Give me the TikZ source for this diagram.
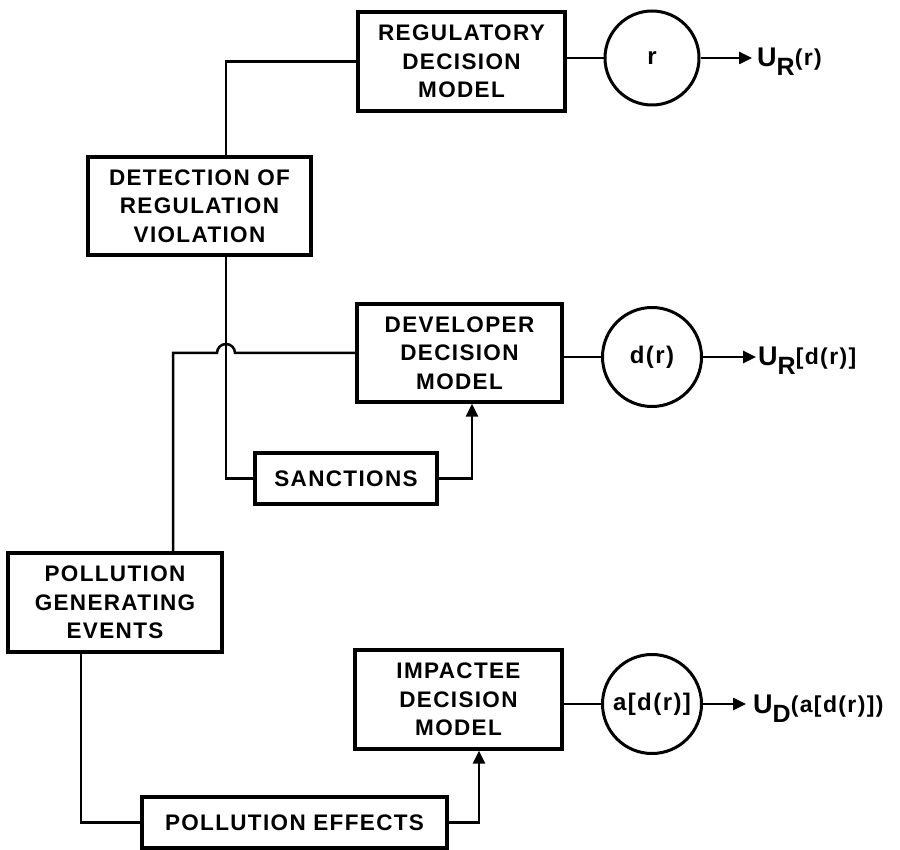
\documentclass[tikz,border=0pt]{standalone}
\usepackage{fontspec}
\setmainfont{Liberation Sans}[LetterSpace=6]
\usetikzlibrary{arrows.meta}
\newcommand\dgmfont{\fontsize{22.5}{28.5}\selectfont\bfseries}
\newcommand\circfont{\fontsize{24}{28}\selectfont\bfseries}
% utility label: U with a lowered subscript and a smaller argument
\newcommand\ulabel[2]{{\fontsize{27}{27}\selectfont\bfseries U}\raisebox{-9pt}{\fontsize{25}{25}\selectfont\bfseries #1}\raisebox{1pt}{\fontsize{23}{23}\selectfont\bfseries #2}}
\begin{document}
\begin{tikzpicture}[x=1pt,y=-1pt,
  box/.style={draw, line width=3.4pt, rectangle, inner sep=0pt, align=center, font=\dgmfont},
  state/.style={draw, line width=3pt, circle, inner sep=0pt, minimum size=99pt, font=\circfont},
  conn/.style={line width=2.5pt},
  arr/.style={line width=2.5pt, -{Triangle[length=13pt,width=12pt]}},
  ulab/.style={anchor=base west, inner sep=0pt}
]
\useasboundingbox (0,0) rectangle (900,850);

% boxes
\node[box, minimum width=207pt, minimum height=99pt] (reg)  at (461.5,61.5) {REGULATORY\\DECISION\\MODEL};
\node[box, minimum width=223pt, minimum height=98pt] (det)  at (199.5,206)  {DETECTION OF\\REGULATION\\VIOLATION};
\node[box, minimum width=205pt, minimum height=98pt] (dev)  at (459.5,353)  {DEVELOPER\\DECISION\\MODEL};
\node[box, minimum width=182pt, minimum height=51pt] (sanc) at (346,478.5)  {SANCTIONS};
\node[box, minimum width=214pt, minimum height=99pt] (pge)  at (115,602.5)  {POLLUTION\\GENERATING\\EVENTS};
\node[box, minimum width=207pt, minimum height=99pt] (imp)  at (458.5,699.5) {IMPACTEE\\DECISION\\MODEL};
\node[box, minimum width=305pt, minimum height=51pt] (pe)   at (294.5,822.5) {POLLUTION EFFECTS};

% outcome circles
\node[state, minimum size=94pt] (rc) at (652,58)  {r};
\node[state] (dc) at (652,357) {d(r)};
\node[state] (ac) at (652,704) {a[d(r)]};

% utility labels
\node[ulab] (ur)  at (757,67)  {\ulabel{R}{(r)}};
\node[ulab] (ud)  at (758,366) {\ulabel{R}{[d(r)]}};
\node[ulab] (ua)  at (753,713) {\ulabel{D}{(a[d(r)])}};
\coordinate (urtip) at (752,58);
\coordinate (udtip) at (756,357);
\coordinate (uatip) at (746,704);

% routing columns
\coordinate (xd) at (226,0);
\coordinate (xs) at (472,0);
\coordinate (xp) at (173,0);
\coordinate (xg) at (81,0);
\coordinate (xe) at (479,0);

% regulator branch
\draw[conn] (det.north -| xd) |- (reg.west);
\draw[conn] (rc.west -| reg.east) -- (rc.west);
\draw[arr]  (rc.east) -- (urtip);

% sanctions loop
\draw[conn] (det.south -| xd) |- (sanc.west);
\draw[arr]  (sanc.east) -| (dev.south -| xs);

% developer branch, hopping over the detection line
\draw[conn] (pge.north -| xp) |- (217,353) arc[start angle=180, end angle=360, radius=9] -- (dev.west);
\draw[conn] (dc.west -| dev.east) -- (dc.west);
\draw[arr]  (dc.east) -- (udtip);

% impactee branch
\draw[conn] (pge.south -| xg) |- (pe.west);
\draw[arr]  (pe.east) -| (imp.south -| xe);
\draw[conn] (ac.west -| imp.east) -- (ac.west);
\draw[arr]  (ac.east) -- (uatip);
\end{tikzpicture}
\end{document}
